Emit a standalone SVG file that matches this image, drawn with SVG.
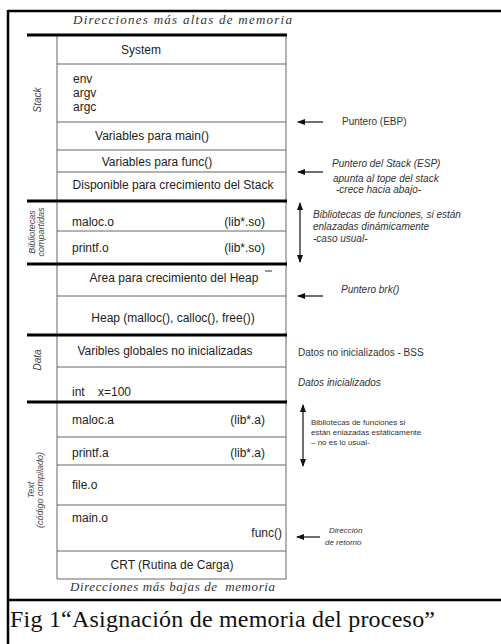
<svg xmlns="http://www.w3.org/2000/svg" width="501" height="644" viewBox="0 0 501 644">
<style>
.t{font-family:"Liberation Sans",Arial,sans-serif;font-size:12px;fill:#222}
.c{text-anchor:middle}
.r{text-anchor:end}
.a{font-family:"Liberation Sans",Arial,sans-serif;font-size:10px;fill:#333}
.s{font-family:"Liberation Sans",Arial,sans-serif;font-size:8px;fill:#333}
.i{font-style:italic}
.lab{font-family:"Liberation Sans",Arial,sans-serif;font-size:10px;font-style:italic;fill:#444;text-anchor:middle}
.lab2{font-family:"Liberation Sans",Arial,sans-serif;font-size:9px;font-style:italic;fill:#444;text-anchor:middle}
.ser{font-family:"Liberation Serif","Times New Roman",serif;font-style:italic;font-size:13px;fill:#333}
.thin{stroke:#666;stroke-width:1;fill:none}
.thick{stroke:#000;stroke-width:3;fill:none}
.frame{stroke:#000;stroke-width:2.5;fill:none}
.arr{stroke:#222;stroke-width:1.3;fill:none}
</style>
<defs>
<marker id="ah" markerWidth="8" markerHeight="8" refX="7" refY="4" orient="auto" markerUnits="userSpaceOnUse">
<path d="M0,1 L8,4 L0,7 Z" fill="#111"/>
</marker>
</defs>
<rect width="501" height="644" fill="#fff"/>
<g id="frame">
<line class="frame" x1="8" y1="11" x2="501" y2="11"/>
<line class="frame" x1="8" y1="10" x2="8" y2="644"/>
<line class="frame" x1="8" y1="600" x2="501" y2="600"/>
</g>
<text class="ser" x="73" y="24" textLength="219" lengthAdjust="spacing">Direcciones más altas de memoria</text>
<text class="ser" x="70" y="591" textLength="205" lengthAdjust="spacing" xml:space="preserve">Direcciones más bajas de  memoria</text>
<text x="10" y="627" font-family="'Liberation Serif','Times New Roman',serif" font-size="24" fill="#111" textLength="425" lengthAdjust="spacing">Fig 1“Asignación de memoria del proceso”</text>

<g id="table">
<line class="thin" x1="57" y1="35" x2="57" y2="579"/>
<line class="thin" x1="286" y1="35" x2="286" y2="579"/>
<line class="thin" x1="57" y1="64" x2="286" y2="64"/>
<line class="thin" x1="57" y1="122" x2="286" y2="122"/>
<line class="thin" x1="57" y1="150" x2="286" y2="150"/>
<line class="thin" x1="57" y1="172" x2="286" y2="172"/>
<line class="thin" x1="57" y1="231" x2="286" y2="231"/>
<line class="thin" x1="57" y1="296" x2="286" y2="296"/>
<line class="thin" x1="57" y1="367" x2="286" y2="367"/>
<line class="thin" x1="57" y1="437" x2="286" y2="437"/>
<line class="thin" x1="57" y1="465" x2="286" y2="465"/>
<line class="thin" x1="57" y1="505" x2="286" y2="505"/>
<line class="thin" x1="57" y1="551" x2="286" y2="551"/>
<line class="thin" x1="57" y1="579" x2="286" y2="579"/>
<line class="thick" x1="27" y1="35" x2="287" y2="35"/>
<line class="thick" x1="27" y1="201" x2="287" y2="201"/>
<line class="thick" x1="27" y1="264" x2="287" y2="264"/>
<line class="thick" x1="27" y1="335" x2="287" y2="335"/>
<line class="thick" x1="27" y1="402" x2="287" y2="402"/>
<line x1="265" y1="271" x2="272" y2="271" stroke="#333" stroke-width="1"/>
</g>

<g id="stack">
<text class="lab" transform="translate(41,100) rotate(-90)">Stack</text>
<text class="t c" x="141" y="54">System</text>
<text class="t" x="73" y="83">env</text>
<text class="t" x="73" y="97">argv</text>
<text class="t" x="73" y="111">argc</text>
<text class="t c" x="152" y="140">Variables para main()</text>
<text class="t c" x="157" y="166">Variables para func()</text>
<text class="t c" x="173" y="189">Disponible para crecimiento del Stack</text>
</g>
<g id="shared">
<text class="lab2" transform="translate(35,232) rotate(-90)">Bibliotecas</text>
<text class="lab2" transform="translate(44,232) rotate(-90)">compartidas</text>
<text class="t" x="72" y="226">maloc.o</text>
<text class="t r" x="265" y="226">(lib*.so)</text>
<text class="t" x="72" y="252">printf.o</text>
<text class="t r" x="265" y="252">(lib*.so)</text>
</g>
<g id="heap">
<text class="t c" x="174" y="282">Area para crecimiento del Heap</text>
<text class="t c" x="173" y="322">Heap (malloc(), calloc(), free())</text>
</g>
<g id="data">
<text class="lab" transform="translate(41,360) rotate(-90)">Data</text>
<text class="t c" x="165" y="355">Varibles globales no inicializadas</text>
<text class="t" x="72" y="396">int</text>
<text class="t" x="98" y="396">x=100</text>
</g>
<g id="text">
<text class="lab2" transform="translate(34,490) rotate(-90)">Text</text>
<text class="lab2" transform="translate(43,490) rotate(-90)">(código compilado)</text>
<text class="t" x="72" y="424">maloc.a</text>
<text class="t r" x="265" y="424">(lib*.a)</text>
<text class="t" x="72" y="457">printf.a</text>
<text class="t r" x="265" y="457">(lib*.a)</text>
<text class="t" x="72" y="489">file.o</text>
<text class="t" x="72" y="522">main.o</text>
<text class="t r" x="282" y="537">func()</text>
<text class="t c" x="172" y="569">CRT (Rutina de Carga)</text>
</g>

<g id="connectors">
<line class="arr" x1="323" y1="122" x2="298" y2="122" marker-end="url(#ah)"/>
<line class="arr" x1="323" y1="172" x2="298" y2="172" marker-end="url(#ah)"/>
<line class="arr" x1="300" y1="232" x2="300" y2="203" marker-end="url(#ah)"/>
<line class="arr" x1="300" y1="232" x2="300" y2="262" marker-end="url(#ah)"/>
<line class="arr" x1="323" y1="296" x2="298" y2="296" marker-end="url(#ah)"/>
<line class="arr" x1="303" y1="435" x2="303" y2="405" marker-end="url(#ah)"/>
<line class="arr" x1="303" y1="435" x2="303" y2="466" marker-end="url(#ah)"/>
<line class="arr" x1="320" y1="537" x2="297" y2="537" marker-end="url(#ah)"/>
</g>

<g id="notes">
<text class="a" x="342" y="125">Puntero (EBP)</text>
<text class="a i" x="332" y="167">Puntero del Stack (ESP)</text>
<text class="a i" x="333" y="182">apunta al tope del stack</text>
<text class="a i" x="336" y="193">-crece hacia abajo-</text>
<text class="a i" x="313" y="218">Bibliotecas de funciones, si están</text>
<text class="a i" x="313" y="230">enlazadas dinámicamente</text>
<text class="a i" x="313" y="242">-caso usual-</text>
<text class="a i" x="341" y="293">Puntero brk()</text>
<text class="a" x="298" y="356">Datos no inicializados - BSS</text>
<text class="a i" x="298" y="386">Datos inicializados</text>
<text class="s" x="311" y="425">Bibliotecas de funciones si</text>
<text class="s" x="311" y="435">están enlazadas estáticamente</text>
<text class="s" x="311" y="445">– no es lo usual-</text>
<text class="s i" x="329" y="533">Dirección</text>
<text class="s i" x="325" y="545">de retorno</text>
</g>
</svg>
